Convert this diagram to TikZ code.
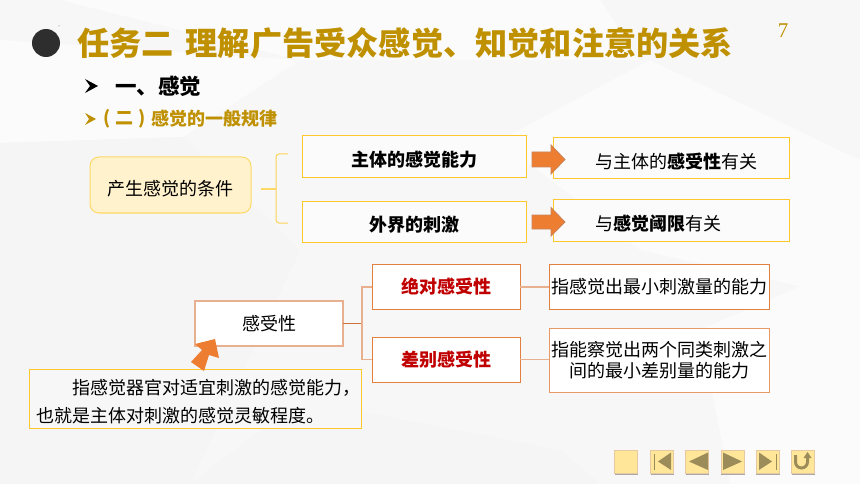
\documentclass[tikz,border=0pt]{standalone}
\usepackage{fontspec}
\setmainfont{Noto Sans CJK SC}
\newfontfamily\serifnum{Liberation Serif}
\definecolor{bgbase}{HTML}{F7F7F8}
\definecolor{bglight}{HTML}{FBFBFC}
\definecolor{bgdark}{HTML}{F5F5F6}
\definecolor{gold}{HTML}{BF9000}
\definecolor{yel}{HTML}{FFC72E}
\definecolor{yelpale}{HTML}{FFD966}
\definecolor{cream}{HTML}{FFF2CC}
\definecolor{org}{HTML}{E2813F}
\definecolor{orgpale}{HTML}{E8B08F}
\definecolor{orgfill}{HTML}{ED7D31}
\definecolor{orgedge}{HTML}{C9855A}
\definecolor{redtx}{HTML}{C00000}
\definecolor{btn}{HTML}{FFE699}
\definecolor{btnedge}{HTML}{E8C8A0}
\definecolor{btnicon}{HTML}{9C8C5A}
\definecolor{btnshadow}{HTML}{A8A8A8}
\tikzset{
  x=1pt,y=-1pt,
  tx/.style={font=\fontsize{18pt}{22pt}\selectfont,text=black,inner sep=0pt},
  txb/.style={font=\fontsize{18pt}{22pt}\selectfont\bfseries,text=black,inner sep=0pt},
  box/.style={draw=#1,line width=1pt,inner sep=0pt,outer sep=0pt},
  yelbox/.style={box=yel,fill=bglight},
  orgbox/.style={box=org,fill=white},
  link/.style={line width=1.2pt,draw=#1},
  bigarrow/.style={fill=orgfill,draw=orgedge,line width=0.8pt,line join=miter},
  navbtn/.style={fill=btn,draw=btnedge,line width=0.8pt,minimum width=23pt,minimum height=23pt,inner sep=0pt,outer sep=0pt},
  navshadow/.style={fill=btnshadow,draw=none},
  navicon/.style={fill=btnicon,draw=none},
}
\begin{document}
\begin{tikzpicture}
\useasboundingbox (0,0) rectangle (860,484);
% background
\fill[bgbase] (0,0) rectangle (860,484);
\fill[bglight] (0,40) -- (300,60) -- (183,137) -- (0,143) -- cycle;
\fill[bglight] (60,0) -- (600,0) -- (640,60) -- (300,60) -- cycle;
\fill[bgdark] (0,143) -- (183,137) -- (300,250) -- (190,484) -- (0,484) -- cycle;
\fill[bglight] (500,140) -- (650,60) -- (860,160) -- (860,300) -- (640,250) -- cycle;
\fill[bgdark] (190,484) -- (300,400) -- (560,450) -- (600,484) -- cycle;
\fill[bglight] (700,330) -- (860,260) -- (860,484) -- (730,484) -- cycle;
% title
\fill[black!82] (46,43) circle (14);
\fill[black!60] (59,26) circle (0.5);
\node[anchor=west,inner sep=0pt,text=gold,font=\fontsize{32.2pt}{36pt}\selectfont\bfseries] (title) at (77,43) {任务二\hspace{12pt}理解广告受众感觉、知觉和注意的关系};
\node[anchor=center,inner sep=0pt,text=gold,font=\fontsize{21pt}{24pt}\serifnum] (pageno) at (783,31) {7};
% headings
\fill[black] (85,79) -- (98,86) -- (85,93) -- (90,86) -- cycle;
\node[anchor=west,inner sep=0pt,font=\fontsize{21.5pt}{24pt}\selectfont\bfseries] (h1) at (115,86) {一、感觉};
\fill[gold] (85,113) -- (96,119) -- (85,125) -- (89,119) -- cycle;
\node[anchor=west,inner sep=0pt,text=gold,font=\fontsize{18pt}{22pt}\selectfont\bfseries] (h2a) at (103,119) {(\hspace{5pt}二\hspace{5pt})};
\node[anchor=west,inner sep=0pt,text=gold,font=\fontsize{18pt}{22pt}\selectfont\bfseries] (h2b) at (151,119) {感觉的一般规律};
% condition group
\node[draw=yelpale,fill=cream,line width=1pt,rounded corners=9pt,minimum width=161pt,minimum height=56pt,tx] (cond) at (170.5,185) {};
\node[tx] at ([yshift=-3.5pt]cond.center) {产生感觉的条件};
\node[yelbox,minimum width=224pt,minimum height=42pt] (subj) at (414,157) {};
\node[txb] at ([yshift=-3pt]subj.center) {主体的感觉能力};
\node[yelbox,minimum width=224pt,minimum height=40pt] (ext) at (414,222) {};
\node[txb] at ([yshift=-3pt]ext.center) {外界的刺激};
\coordinate (bl) at (261,189);
\coordinate (bm) at (276,189);
\coordinate (bt) at (288,154);
\coordinate (bb) at (288,223);
\draw[link=yelpale] (bl) -- (bm);
\draw[draw=yel!80!white,line width=1pt,rounded corners=3pt] (bt) -- (276,154) -- (276,223) -- (bb);
\node[yelbox,minimum width=236pt,minimum height=41pt] (ra) at (671,158.5) {};
\node[yelbox,minimum width=236pt,minimum height=41pt] (rb) at (671,220.5) {};
\node[tx,anchor=west] at (595.5,162) {与主体的\textbf{感受性}有关};
\node[tx,anchor=west] at (595.5,224) {与\textbf{感觉阈限}有关};
\draw[bigarrow] (532,152) -- (551,152) -- (551,145) -- (565,159.5) -- (551,174) -- (551,167) -- (532,167) -- cycle;
\draw[bigarrow] (532,215) -- (551,215) -- (551,207.5) -- (565,222) -- (551,236) -- (551,229) -- (532,229) -- cycle;
% sensitivity tree
\node[box=orgpale,fill=white,line width=1.2pt,minimum width=148pt,minimum height=45pt] (sens) at (269,323.5) {};
\node[tx] at (sens.center) {感受性};
\node[orgbox,minimum width=148pt,minimum height=45pt] (abs) at (446,287) {};
\node[orgbox,minimum width=148pt,minimum height=45pt] (dif) at (446,359.5) {};
\node[txb,text=redtx] at (abs.center) {绝对感受性};
\node[txb,text=redtx] at (dif.center) {差别感受性};
\node[orgbox,minimum width=220pt,minimum height=45pt] (absd) at (659,287) {};
\node[orgbox,draw=org!80!white,minimum width=220pt,minimum height=64pt] (difd) at (659,360) {};
\node[tx] at (absd.center) {指感觉出最小刺激量的能力};
\node[tx,align=center,font=\fontsize{18pt}{21.5pt}\selectfont] at (difd.center) {指能察觉出两个同类刺激之\\间的最小差别量的能力};
\coordinate (jn) at (362,323.5);
\draw[draw=org!90!black,line width=1pt] (sens.east) -- (jn);
\draw[link=orgpale] (abs.west) -| (jn) |- (dif.west);
\draw[link=orgpale] (abs.east) -- (abs.east -| absd.west);
\draw[link=orgpale] (dif.east) -- (dif.east -| difd.west);
% note box
\node[box=yel,fill=bgbase,minimum width=332pt,minimum height=59pt] (note) at (195,398.5) {};
\node[tx,anchor=west] at (72,388) {指感觉器官对适宜刺激的感觉能力，};
\node[tx,anchor=west] at (36,416) {也就是主体对刺激的感觉灵敏程度。};
\fill[orgfill] (191,362) -- (204,371) -- (209,355) -- (219,358) -- (215,339) -- (195,344) -- (202,350) -- cycle;
% nav buttons
\foreach \cx/\nm in {626/nA,662/nB,697/nC,732.5/nD,767.5/nE,803/nF}{
  \fill[navshadow] (\cx-11.5,453) rectangle (\cx+12,474.5);
  \node[navbtn] (\nm) at (\cx,461.5) {};
}
\fill[navicon] (653.5,453.5) rectangle (654.8,469.5);
\fill[navicon] (671,452.5) -- (671,470) -- (658,461.5) -- cycle;
\fill[navicon] (708,452.5) -- (708,470) -- (689,461.5) -- cycle;
\fill[navicon] (723,452.5) -- (723,470) -- (742,461.5) -- cycle;
\fill[navicon] (759,452.5) -- (759,470) -- (772,461.5) -- cycle;
\fill[navicon] (775.5,453.5) rectangle (776.8,469.5);
\draw[btnicon,line width=3pt] (795.5,455) -- (795.5,462) arc[start angle=180,end angle=360,x radius=6,y radius=-6] -- (807.5,458);
\fill[navicon] (803.5,458) -- (807.5,452) -- (811.5,458) -- cycle;
\end{tikzpicture}
\end{document}
